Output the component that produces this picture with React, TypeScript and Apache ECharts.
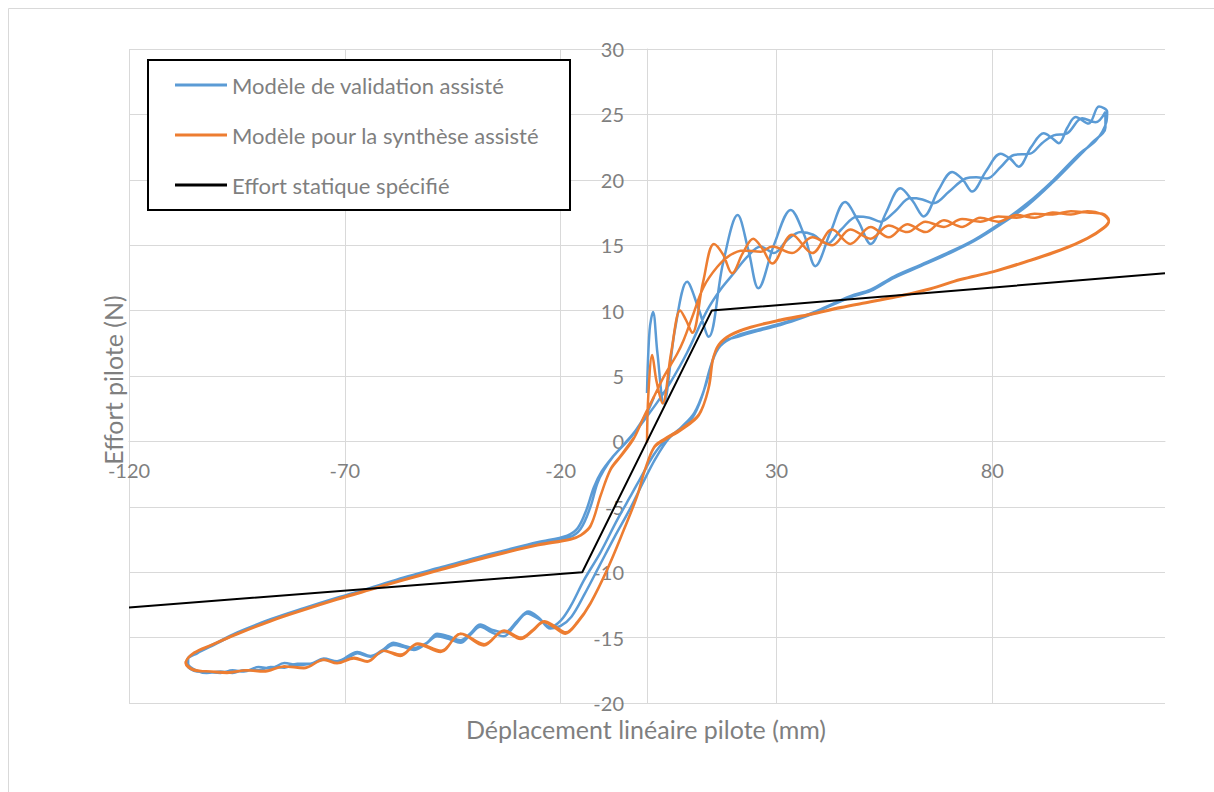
import React, { useEffect, useRef } from "react";
import * as echarts from "echarts";

const seriesNames = [
  "Modèle de validation assisté",
  "Modèle pour la synthèse assisté",
  "Effort statique spécifié",
];

const xAxisTitle = "Déplacement linéaire pilote (mm)";
const yAxisTitle = "Effort pilote (N)";

// Blue – first cycle (large transient oscillations)
const validationCycle1: [number, number][] = [
  [0, 3.7], [0.6, 8.5], [1.4, 9.9], [2.4, 6.8], [3.9, 2.9], [6.5, 8.6], [9.3, 12.2],
  [11.8, 10.3], [14.3, 8.0], [17.6, 13.6], [21.0, 17.3], [23.5, 14.6], [25.8, 11.7],
  [29.5, 15.1], [33.3, 17.7], [36.4, 15.8], [39.0, 13.4], [42.5, 16.0], [45.9, 18.3],
  [49.0, 16.8], [51.8, 15.1], [55.4, 17.5], [58.7, 19.35], [61.5, 18.4], [64.1, 17.2],
  [67.5, 19.2], [70.7, 20.6], [73.2, 20.0], [75.3, 19.1], [78.6, 20.7], [81.9, 22.0],
  [84.2, 21.6], [86.1, 21.0], [89.0, 22.5], [91.9, 23.55], [93.8, 23.2], [95.4, 22.8],
  [97.4, 24.0], [99.3, 24.8], [102.3, 24.3], [104.7, 25.6], [106.6, 25.2],
  [106.4, 24.4], [104.0, 23.0], [100.2, 22.0], [94.2, 20.0], [88.1, 18.2], [81.9, 16.7],
  [75.7, 15.4], [69.5, 14.4], [63.4, 13.5], [57.2, 12.6], [51.8, 11.6], [47.1, 11.1],
  [40.2, 10.1], [35.6, 9.5], [30.9, 9.0], [26.3, 8.6], [21.0, 8.1], [17.0, 7.3],
  [15.0, 6.0], [12.8, 3.5], [10.5, 1.8], [7.5, 0.9], [4.5, 0.2], [1.6, -1.0],
  [-1.5, -2.8], [-3.5, -4.0], [-6.9, -6.0], [-10.8, -8.5], [-14.6, -10.6], [-17.7, -12.6],
  [-20.0, -13.7], [-22.4, -14.2], [-25.0, -13.6], [-27.8, -13.15], [-30.5, -14.0],
  [-33.2, -14.9], [-36.0, -14.6], [-38.6, -14.17], [-41.0, -14.8], [-43.2, -15.4],
  [-46.0, -15.1], [-48.6, -14.9], [-51.3, -15.5], [-54.0, -15.95], [-56.5, -15.7],
  [-58.7, -15.57], [-61.5, -16.1], [-64.1, -16.46], [-67.1, -16.2], [-69.5, -16.6],
  [-71.8, -16.84], [-74.9, -16.7], [-78.0, -17.0], [-81.0, -17.1], [-84.0, -16.95],
  [-87.2, -17.35], [-90.0, -17.25], [-93.4, -17.6], [-96.0, -17.5], [-98.8, -17.7],
  [-101.5, -17.65], [-104.2, -17.6], [-106.5, -17.1], [-106.5, -16.7], [-104.2, -16.2],
  [-100.4, -15.57], [-94.9, -14.68], [-87.2, -13.65], [-79.5, -12.8], [-71.8, -12.0],
  [-64.1, -11.23], [-56.3, -10.47], [-48.6, -9.78], [-40.9, -9.07], [-33.2, -8.43],
  [-25.4, -7.79], [-18.1, -7.35], [-15.4, -6.7], [-13.1, -5.0], [-11.5, -3.2],
  [-10.0, -2.2], [-7.7, -1.1], [-4.6, 0.0], [-2.3, 0.9], [-0.7, 1.6], [2.4, 3.0],
  [5.4, 4.5],
];

// Blue – following cycles (settled)
const validationCycle2: [number, number][] = [
  [9.3, 6.8], [13.9, 10.0], [17.0, 11.6], [20.1, 12.85], [23.2, 14.1], [26.3, 14.9],
  [29.4, 14.4], [32.5, 15.4], [35.6, 16.0], [38.5, 15.8], [41.7, 15.1], [45.0, 16.2],
  [48.7, 17.2], [51.5, 17.1], [54.1, 16.8], [57.5, 17.6], [61.0, 18.6], [63.8, 18.5],
  [66.4, 18.2], [70.0, 19.1], [73.8, 20.1], [76.3, 20.2], [78.8, 20.1], [82.0, 21.0],
  [85.0, 21.9], [88.8, 22.0], [91.5, 22.8], [94.2, 23.4], [97.3, 23.55], [100.8, 24.7],
  [103.9, 24.4], [106.2, 25.2],
  [106.2, 24.0], [103.0, 22.8], [100.0, 21.8], [94.0, 19.8], [88.0, 18.0], [82.0, 16.6],
  [75.7, 15.3], [69.5, 14.3], [63.4, 13.4], [57.2, 12.5], [51.8, 11.5], [47.0, 11.0],
  [40.0, 10.0], [35.6, 9.4], [30.9, 8.9], [26.3, 8.5], [21.0, 8.0], [17.5, 7.6],
  [15.5, 6.5], [13.5, 4.2], [11.0, 2.2], [8.0, 1.1], [5.0, 0.2], [2.0, -1.3],
  [-1.0, -3.2], [-4.0, -5.2], [-7.5, -7.3], [-11.0, -9.5], [-14.5, -11.7], [-17.5, -13.4],
  [-20.0, -14.1], [-22.4, -14.3], [-25.0, -13.5], [-27.5, -13.0], [-30.0, -13.7],
  [-33.0, -14.6], [-36.0, -14.4], [-38.6, -14.0], [-41.0, -14.7], [-43.2, -15.2],
  [-46.0, -14.9], [-48.6, -14.7], [-51.0, -15.4], [-54.0, -15.8], [-56.5, -15.6],
  [-58.7, -15.4], [-61.5, -16.0], [-64.1, -16.4], [-67.1, -16.1], [-71.8, -16.8],
  [-74.9, -16.6], [-78.0, -17.0], [-81.0, -17.0], [-84.0, -17.3], [-87.2, -17.25],
  [-90.0, -17.5], [-93.4, -17.5], [-96.0, -17.7], [-98.8, -17.6], [-102.0, -17.7],
  [-104.5, -17.5], [-106.3, -17.0], [-106.3, -16.6], [-104.0, -16.1], [-100.4, -15.5],
  [-94.9, -14.6], [-87.2, -13.6], [-79.5, -12.75], [-71.8, -11.95], [-64.1, -11.2],
  [-56.3, -10.4], [-48.6, -9.7], [-40.9, -9.0], [-33.2, -8.35], [-25.4, -7.7],
  [-18.5, -7.2], [-16.0, -6.6], [-14.0, -5.2], [-12.3, -3.5], [-10.5, -2.3],
  [-8.0, -1.2], [-5.0, -0.1], [-2.5, 0.9], [0.0, 2.2], [1.6, 3.4],
];

// Orange – first cycle (transient)
const synthesisCycle1: [number, number][] = [
  [0.0, -0.1], [0.3, 3.5], [1.2, 6.6], [2.2, 4.6], [3.6, 2.9], [5.6, 6.8], [7.7, 10.0],
  [9.0, 9.3], [10.5, 8.3], [13.0, 12.2], [15.5, 15.1], [17.6, 14.3], [19.7, 12.85],
  [22.2, 14.4], [24.6, 15.5], [26.8, 14.7], [29.0, 13.6], [33.6, 15.8], [38.3, 14.4],
  [42.9, 16.2], [47.1, 15.1], [51.8, 16.4], [56.0, 15.6], [60.3, 16.6], [64.5, 16.0],
  [68.8, 16.9], [73.0, 16.4], [77.2, 17.1], [81.4, 16.8], [85.6, 17.3], [89.8, 17.1],
  [94.0, 17.5], [98.2, 17.35], [102.0, 17.6], [105.5, 17.35], [107.0, 16.8],
  [105.8, 16.3], [102.0, 15.5], [95.8, 14.6], [88.1, 13.74], [80.3, 12.97], [72.6, 12.35],
  [65.7, 11.65], [58.7, 11.1], [51.8, 10.65], [44.8, 10.2], [37.9, 9.7], [30.9, 9.25],
  [24.0, 8.7], [19.3, 8.1], [16.5, 7.3], [15.2, 6.2], [14.2, 4.0], [12.0, 2.0],
  [8.0, 0.9], [4.0, 0.1], [1.6, -0.5], [-0.7, -2.4], [-2.3, -4.2], [-5.4, -6.8],
  [-9.2, -9.8], [-13.1, -12.4], [-16.2, -13.9], [-18.9, -14.7], [-21.6, -14.2],
  [-23.9, -13.8], [-26.5, -14.5], [-29.3, -15.1], [-33.2, -14.5], [-37.8, -15.6],
  [-43.2, -14.7], [-47.8, -16.1], [-53.2, -15.5], [-57.1, -16.4], [-61.0, -16.0],
  [-64.8, -16.84], [-67.9, -16.6], [-71.8, -16.97], [-74.9, -16.7], [-79.5, -17.35],
  [-84.1, -17.2], [-88.8, -17.6], [-92.6, -17.5], [-97.3, -17.7], [-101.1, -17.6],
  [-105.0, -17.5], [-106.9, -16.95], [-105.0, -16.2], [-101.0, -15.6], [-95.0, -14.75],
  [-87.2, -13.75], [-79.5, -12.9], [-71.8, -12.1], [-64.1, -11.35], [-56.3, -10.6],
  [-48.6, -9.9], [-40.9, -9.2], [-33.2, -8.55], [-25.4, -7.95], [-17.7, -7.5],
  [-15.4, -7.2], [-13.1, -6.5], [-10.8, -4.2], [-8.5, -2.2], [-6.2, -1.2], [-3.1, 0.2],
  [-0.7, 1.9], [1.6, 3.4], [3.9, 4.95],
];

// Orange – second cycle (settled)
const synthesisCycle2: [number, number][] = [
  [7.0, 6.7], [8.5, 7.75], [10.8, 9.8], [13.1, 11.8], [16.3, 13.35], [19.3, 14.25],
  [22.4, 14.6], [26.3, 14.5], [29.0, 14.9], [33.6, 14.4], [38.3, 15.6], [42.9, 15.0],
  [47.1, 16.2], [51.8, 15.5], [56.0, 16.5], [60.3, 16.0], [64.5, 16.8], [68.8, 16.4],
  [73.0, 17.0], [77.2, 16.8], [81.4, 17.2], [85.6, 17.1], [89.8, 17.4], [94.0, 17.35],
  [98.2, 17.6], [102.0, 17.5], [105.5, 17.4], [107.0, 16.9],
  [105.8, 16.35], [102.0, 15.55], [95.8, 14.65], [88.1, 13.8], [80.3, 13.0], [72.6, 12.4],
  [65.7, 11.7], [58.7, 11.15], [51.8, 10.7], [44.8, 10.25], [37.9, 9.75], [30.9, 9.3],
  [24.0, 8.75], [19.3, 8.15], [16.6, 7.4], [15.3, 6.3], [14.3, 4.1], [12.1, 2.1],
  [8.1, 1.0], [4.1, 0.2], [1.7, -0.4], [-0.6, -2.3], [-2.2, -4.1], [-5.3, -6.7],
  [-9.1, -9.7], [-13.0, -12.3], [-16.1, -13.8], [-18.8, -14.6], [-21.5, -14.1],
  [-23.8, -13.75], [-26.4, -14.4], [-29.2, -15.0], [-33.1, -14.45], [-37.7, -15.5],
  [-43.1, -14.7], [-47.7, -16.0], [-53.1, -15.45], [-57.0, -16.3], [-61.0, -16.0],
  [-64.7, -16.8], [-67.8, -16.55], [-71.7, -16.95], [-74.8, -16.7], [-79.4, -17.3],
  [-84.0, -17.2], [-88.7, -17.55], [-92.5, -17.5], [-97.2, -17.65], [-101.0, -17.6],
  [-104.9, -17.45], [-106.8, -16.9], [-104.9, -16.15], [-100.9, -15.55], [-94.9, -14.7],
  [-87.1, -13.7], [-79.4, -12.85], [-71.7, -12.05], [-64.0, -11.3], [-56.2, -10.55],
  [-48.5, -9.85], [-40.8, -9.15], [-33.1, -8.5], [-25.3, -7.9], [-17.6, -7.45],
  [-15.3, -7.15], [-13.0, -6.4], [-10.7, -4.1], [-8.4, -2.1], [-6.1, -1.1], [-3.0, 0.3],
];

// Black – specified static effort
const staticEffort: [number, number][] = [
  [-120, -12.7], [-15, -10], [15, 10], [120, 12.85],
];

const X_MIN = -120;
const X_MAX = 120;
const Y_MIN = -20;
const Y_MAX = 30;

const FONT = "Lato, 'Open Sans', sans-serif";
const TEXT_GREY = "#7f7f7f";
const GRID_GREY = "#d9d9d9";
const BLUE = "#5b9bd5";
const ORANGE = "#ed7d31";

// Plot area (pixels)
const GRID_LEFT = 129;
const GRID_TOP = 49;
const GRID_W = 1036;
const GRID_H = 654;

export default function App() {
  const ref = useRef<HTMLDivElement>(null);

  useEffect(() => {
    if (!ref.current) return;
    const chart = echarts.init(ref.current, undefined, { renderer: "svg" });
    // Axes cross at the origin: shift them from the grid edge to the zero position
    const xAxisOffset = -(GRID_H * (0 - Y_MIN)) / (Y_MAX - Y_MIN);
    const yAxisOffset = -(GRID_W * (0 - X_MIN)) / (X_MAX - X_MIN);
    const legendBase = {
      left: 175,
      icon: "rect",
      itemWidth: 52,
      itemHeight: 3,
      padding: 0,
      selectedMode: false,
      z: 20,
      textStyle: { fontSize: 22, color: TEXT_GREY, fontFamily: FONT },
    };
    chart.setOption({
      animation: false,
      backgroundColor: "#ffffff",
      grid: {
        left: GRID_LEFT,
        top: GRID_TOP,
        width: GRID_W,
        height: GRID_H,
        containLabel: false,
      },
      legend: [
        { ...legendBase, top: 74, data: [seriesNames[0]] },
        { ...legendBase, top: 124, data: [seriesNames[1]] },
        { ...legendBase, top: 174, data: [seriesNames[2]] },
      ],
      xAxis: {
        type: "value",
        min: X_MIN,
        max: X_MAX,
        interval: 50,
        position: "bottom",
        offset: xAxisOffset,
        axisLine: { show: true, onZero: false, lineStyle: { color: GRID_GREY, width: 1 } },
        axisTick: { show: false },
        axisLabel: {
          showMaxLabel: false,
          fontSize: 20,
          color: TEXT_GREY,
          fontFamily: FONT,
          margin: 19,
        },
        splitLine: { show: true, showMaxLine: false, lineStyle: { color: GRID_GREY, width: 1 } },
      },
      yAxis: {
        type: "value",
        min: Y_MIN,
        max: Y_MAX,
        interval: 5,
        position: "left",
        offset: yAxisOffset,
        axisLine: { show: true, onZero: false, lineStyle: { color: GRID_GREY, width: 1 } },
        axisTick: { show: false },
        axisLabel: { fontSize: 20, color: TEXT_GREY, fontFamily: FONT, margin: 23 },
        splitLine: { show: true, lineStyle: { color: GRID_GREY, width: 1 } },
      },
      graphic: [
        {
          type: "rect",
          z: -10,
          silent: true,
          shape: { x: 8.5, y: 8.5, width: 1400, height: 1000 },
          style: { fill: "none", stroke: GRID_GREY, lineWidth: 1 },
        },
        {
          type: "rect",
          z: 10,
          silent: true,
          shape: { x: 148, y: 60, width: 422, height: 150 },
          style: { fill: "#ffffff", stroke: "#000000", lineWidth: 2 },
        },
        {
          type: "text",
          x: 646,
          y: 729,
          silent: true,
          style: {
            text: xAxisTitle,
            fontSize: 25,
            fontFamily: FONT,
            fill: TEXT_GREY,
            align: "center",
            verticalAlign: "middle",
          },
        },
        {
          type: "text",
          x: 113,
          y: 380,
          rotation: Math.PI / 2,
          silent: true,
          style: {
            text: yAxisTitle,
            fontSize: 25,
            fontFamily: FONT,
            fill: TEXT_GREY,
            align: "center",
            verticalAlign: "middle",
          },
        },
      ],
      series: [
        {
          name: seriesNames[0],
          type: "line",
          data: [...validationCycle1, ...validationCycle2],
          showSymbol: false,
          smooth: 0.35,
          lineStyle: { color: BLUE, width: 2.5 },
          itemStyle: { color: BLUE },
          z: 2,
        },
        {
          name: seriesNames[1],
          type: "line",
          data: [...synthesisCycle1, ...synthesisCycle2],
          showSymbol: false,
          smooth: 0.35,
          lineStyle: { color: ORANGE, width: 2.5 },
          itemStyle: { color: ORANGE },
          z: 3,
        },
        {
          name: seriesNames[2],
          type: "line",
          data: staticEffort,
          showSymbol: false,
          lineStyle: { color: "#000000", width: 2 },
          itemStyle: { color: "#000000" },
          z: 4,
        },
      ],
    });
    return () => chart.dispose();
  }, []);

  return (
    <div
      ref={ref}
      style={{ position: "absolute", left: 0, top: 0, width: 1214, height: 792 }}
    />
  );
}
